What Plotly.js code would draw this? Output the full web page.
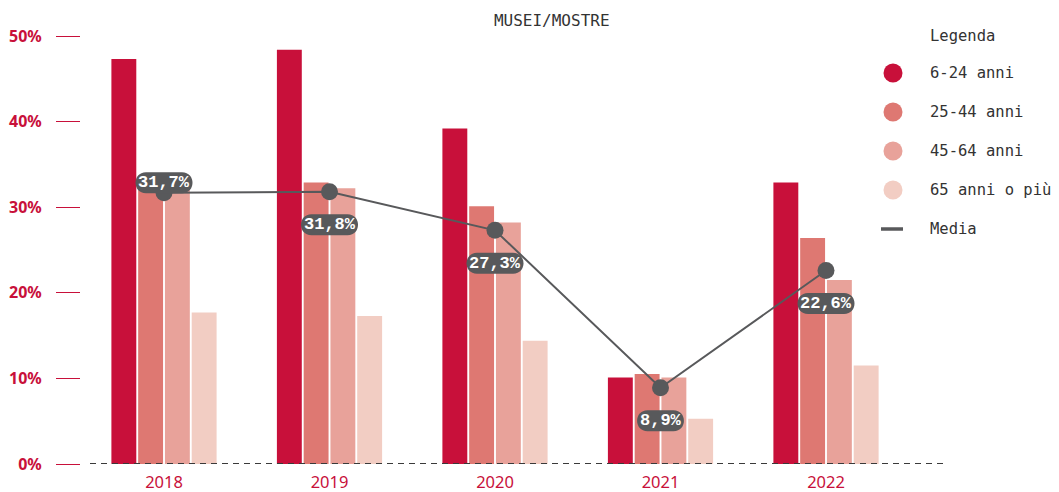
<!DOCTYPE html>
<html>
<head>
<meta charset="utf-8">
<script src="https://cdn.plot.ly/plotly-3.0.1.min.js"></script>
<style>html,body{margin:0;padding:0;background:#fff;}#chart{width:1059px;height:492px;}</style>
</head>
<body>
<div id="chart"></div>
<script>
const years = ['2018', '2019', '2020', '2021', '2022'];
const age6_24 = [47.3, 48.4, 39.2, 10.1, 32.9];
const age25_44 = [33.0, 32.9, 30.1, 10.5, 26.4];
const age45_64 = [32.6, 32.2, 28.2, 10.1, 21.5];
const age65plus = [17.7, 17.3, 14.4, 5.3, 11.5];
const media = [31.7, 31.8, 27.3, 8.9, 22.6];
const labelSide = ['above', 'below', 'below', 'below', 'below'];
const seriesNames = ['6-24 anni', '25-44 anni', '45-64 anni', '65 anni o più'];
const mediaName = 'Media';
const legendTitle = 'Legenda';
const yTickVals = [0, 10, 20, 30, 40, 50];
const yTickText = ['0%', '10%', '20%', '30%', '40%', '50%'];

const colors = ['#c8103a', '#de7872', '#e8a29a', '#f2cdc3'];
const grey = '#58595b';
const crimson = '#c8103a';
const mono = '"Liberation Mono", "DejaVu Sans Mono", monospace';
const monoLeg = '"DejaVu Sans Mono", "Liberation Mono", monospace';

// plot geometry (pixels) for converting legend placement to paper coordinates
const M = {l: 81, r: 114, t: 36, b: 28};
const W = 1059, H = 492;
const pw = W - M.l - M.r, ph = H - M.t - M.b;
const px = v => (v - M.l) / pw;
const py = v => (H - M.b - v) / ph;

const seriesVals = [age6_24, age25_44, age45_64, age65plus];
const traces = [];
seriesVals.forEach((vals, i) => {
  traces.push({
    type: 'bar', x: years, y: vals, name: seriesNames[i],
    marker: {color: colors[i]}, hoverinfo: 'skip'
  });
});
traces.push({
  type: 'scatter', mode: 'lines+markers', x: years, y: media, name: mediaName,
  line: {color: grey, width: 2}, marker: {color: grey, size: 17}, hoverinfo: 'skip'
});

function fmt(v) { return v.toFixed(1).replace('.', ',') + '%'; }

const shapes = [{
  type: 'line', xref: 'paper', yref: 'y', x0: px(90), x1: 1, y0: 0, y1: 0,
  line: {color: '#3a3a3a', width: 2, dash: '6px,5px'}, layer: 'above'
}];
const annotations = [];
media.forEach((v, i) => {
  const txt = fmt(v);
  const cy = labelSide[i] === 'above' ? 10 : -33;
  const w = txt.length * 10.2 + 6;
  const r = 10.5;
  const L = -w / 2, R = w / 2, T = cy + r, B = cy - r;
  const k = r * 4 / 3;
  const path = 'M' + (L + r) + ',' + T + ' L' + (R - r) + ',' + T +
    ' C' + (R - r + k) + ',' + T + ' ' + (R - r + k) + ',' + B + ' ' + (R - r) + ',' + B +
    ' L' + (L + r) + ',' + B +
    ' C' + (L + r - k) + ',' + B + ' ' + (L + r - k) + ',' + T + ' ' + (L + r) + ',' + T + ' Z';
  shapes.push({
    type: 'path', xref: 'x', yref: 'y', xsizemode: 'pixel', ysizemode: 'pixel',
    xanchor: i, yanchor: v, path: path,
    fillcolor: grey, line: {width: 0}, layer: 'above'
  });
  annotations.push({
    x: i, y: v, xref: 'x', yref: 'y', text: '<b>' + txt + '</b>', showarrow: false,
    yshift: cy, font: {family: mono, size: 17, color: '#ffffff'}
  });
});

// legend (drawn manually to match the reference layout)
const legFont = {family: monoLeg, size: 15.5, color: '#333'};
annotations.push({
  xref: 'paper', yref: 'paper', x: px(928), y: py(36), xanchor: 'left', yanchor: 'middle',
  text: legendTitle, showarrow: false, font: legFont
});
const legNames = seriesNames.concat([mediaName]);
legNames.forEach((n, i) => {
  const cyPx = 73 + 39 * i;
  annotations.push({
    xref: 'paper', yref: 'paper', x: px(928), y: py(cyPx), xanchor: 'left', yanchor: 'middle',
    text: n, showarrow: false, font: legFont
  });
  if (i < seriesNames.length) {
    shapes.push({
      type: 'circle', xref: 'paper', yref: 'paper',
      x0: px(893 - 9.5), x1: px(893 + 9.5), y0: py(cyPx + 9.5), y1: py(cyPx - 9.5),
      fillcolor: colors[i], line: {width: 0}
    });
  } else {
    shapes.push({
      type: 'line', xref: 'paper', yref: 'paper',
      x0: px(881), x1: px(903), y0: py(cyPx), y1: py(cyPx),
      line: {color: grey, width: 3.5}
    });
  }
});

const layout = {
  width: W, height: H,
  margin: M,
  paper_bgcolor: '#fff', plot_bgcolor: '#fff',
  title: {text: 'MUSEI/MOSTRE', x: 0.521, xref: 'container', xanchor: 'center',
    y: 0.959, yref: 'container', yanchor: 'middle',
    font: {family: monoLeg, size: 16, color: '#333'}},
  barmode: 'group', bargap: 0.353, bargroupgap: 0.07,
  showlegend: false,
  xaxis: {type: 'category', range: [-0.5015, 4.719], autorange: false,
    showgrid: false, zeroline: false, showline: false, ticks: '',
    tickfont: {family: 'Noto Sans', size: 16.5, color: crimson},
    ticklabelstandoff: 6, fixedrange: true},
  yaxis: {range: [0, 50], autorange: false, showgrid: false, zeroline: false, showline: false,
    tickmode: 'array', tickvals: yTickVals, ticktext: yTickText,
    ticks: 'outside', ticklen: 24, tickwidth: 1, tickcolor: crimson,
    tickfont: {family: 'Noto Sans', size: 16, color: crimson, weight: 'bold'},
    ticklabelstandoff: 11, fixedrange: true},
  shapes: shapes,
  annotations: annotations
};

Plotly.newPlot('chart', traces, layout, {displayModeBar: false, staticPlot: true});
</script>
</body>
</html>
